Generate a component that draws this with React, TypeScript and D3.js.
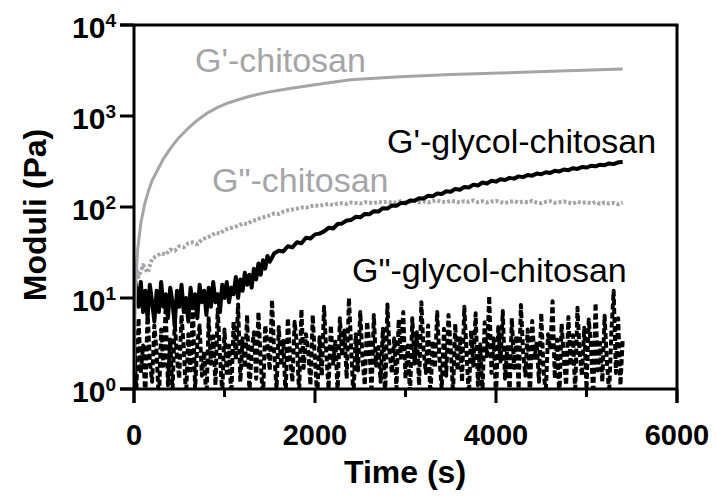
import React from "react";
import * as d3 from "d3";

// ---- data ----
const gpChitosanTime = [0, 5, 10, 20, 40, 77, 120, 155, 200, 265, 330, 409, 500, 597, 700, 818, 930, 1039, 1150, 1260, 1481, 1702, 2000, 2390, 2940, 3500, 4045, 4700, 5400];
const gpChitosan = [1.5, 2.5, 6, 15, 34, 68, 110, 145, 195, 260, 345, 450, 585, 730, 900, 1090, 1250, 1390, 1510, 1630, 1830, 1990, 2200, 2500, 2700, 2850, 2960, 3120, 3280];

const gppChitosanStep = 50; // s between samples
const gppChitosan = [
  26, 17, 23, 19, 27,
  29, 31, 30, 34, 33, 37,
  36, 40, 41, 39, 44, 46,
  48, 52, 51, 56, 58, 60,
  62, 66, 65, 70, 72, 76,
  78, 81, 85, 84, 89, 92,
  94, 96, 99, 98, 102, 104,
  103, 106, 108, 105, 109, 110,
  108, 112, 111, 109, 113, 112,
  110, 114, 112, 115, 111, 113,
  116, 112, 114, 117, 113, 115,
  112, 116, 118, 114, 113, 117,
  115, 112, 116, 114, 118, 113,
  116, 112, 115, 117, 113, 111,
  114, 116, 112, 115, 113, 117,
  112, 110, 114, 116, 111, 113,
  115, 112, 109, 114, 111, 113,
  110, 113, 108, 112, 109, 111, 107, 112,
];

const gpGlycolEarlyStep = 25; // s, from t = 0
const gpGlycolEarly = [
  18, 13, 8, 15, 7, 12, 6, 14, 9, 5.5,
  12, 7, 15, 8, 11, 6, 13, 9, 5, 12,
  8, 14, 7, 10, 5.5, 13, 8, 11, 6, 14,
  9, 12, 6.5, 13, 8, 15, 9, 11, 7, 14,
  10, 15, 9, 13, 11, 17, 10, 16, 12, 19,
  14, 18, 13, 21, 16, 24, 18, 26, 21, 29, 25,
];
const gpGlycolLateStart = 1550;
const gpGlycolLateStep = 50;
const gpGlycolLate = [
  31, 33, 32.5, 37, 36, 41, 40, 46, 45, 50,
  51, 54, 59, 58, 65, 66, 71, 72, 78, 77,
  84, 83, 90, 89, 97, 96, 104, 103, 111, 110,
  118, 117, 125, 124, 133, 131, 141, 139, 149, 147,
  158, 155, 166, 164, 176, 172, 186, 181, 194, 190,
  202, 198, 209, 205, 217, 213, 225, 221, 233, 229,
  241, 237, 250, 246, 258, 254, 267, 262, 275, 271,
  284, 280, 292, 288, 301, 296, 310, 312,
];

const gppGlycolStep = 25;
const gppGlycol = [
  4, 0.9, 6, 1.5, 3, 0.8, 7, 2, 1.2, 5,
  2.5, 0.7, 4.5, 1.8, 8, 1.1, 3.5, 0.9, 5.5, 2.2,
  1.3, 6.5, 2.8, 0.8, 4, 1.6, 9, 1.0, 3.2, 5,
  1.4, 2.6, 0.7, 6, 1.9, 3.8, 1.1, 7.5, 2.3, 0.9,
  4.5, 1.5, 3, 0.8, 5.5, 2.1, 8.5, 1.2, 3.6, 1.7,
  6.5, 0.9, 2.7, 4.2, 1.3, 7, 2, 0.75, 5, 3.1,
  1.6, 9.5, 2.4, 1.0, 4.8, 1.8, 3.4, 0.8, 6, 2.2,
  1.2, 5.5, 3, 0.9, 7.5, 1.7, 4, 2.6, 1.1, 6.5,
  2, 0.8, 3.7, 1.4, 8, 2.5, 1.0, 5, 1.9, 3.3,
  0.9, 6, 2.3, 4.4, 1.3, 10, 2.8, 0.8, 4, 1.6,
  7, 2.1, 1.1, 5.5, 3.2, 0.9, 6.5, 1.8, 2.9, 1.2,
  4.6, 0.8, 8.5, 2.4, 1.5, 3.6, 1.0, 5.8, 2.2, 7,
  1.3, 3, 0.85, 6, 1.9, 4.2, 1.1, 9, 2.6, 1.5,
  5, 0.8, 3.4, 1.7, 7, 2.2, 1.0, 4.6, 1.4, 6.5,
  2.8, 0.9, 5.2, 1.6, 3.8, 1.2, 8, 2.4, 0.8, 4.4,
  1.8, 6.8, 1.1, 3.1, 0.9, 5.4, 2.3, 10.5, 1.5, 3.6,
  0.8, 4.8, 2, 7.2, 1.3, 2.9, 0.9, 6, 1.7, 3.9,
  1.0, 8.4, 2.5, 1.4, 4.5, 0.8, 5.6, 2.1, 3.3, 1.2,
  6.8, 1.6, 0.9, 4, 2.7, 9.2, 1.3, 3.5, 0.8, 5.2,
  2.2, 1.1, 6.2, 1.8, 3.9, 0.9, 7.8, 2.4, 1.4, 4.7,
  1.0, 5.8, 2.9, 0.8, 8.8, 1.6, 3.2, 1.2, 6.4, 2,
  0.9, 4.2, 12, 1.5, 6, 1.1, 3.5,
];

const xMajorTicks = [0, 2000, 4000, 6000];
const xMinorTicks = [1000, 3000, 5000];
const yExponents = [0, 1, 2, 3, 4];

const labels = [
  { text: "G'-chitosan", color: "gray", x: 195, y: 72 },
  { text: "G\"-chitosan", color: "gray", x: 212, y: 192 },
  { text: "G'-glycol-chitosan", color: "black", x: 387, y: 153 },
  { text: "G\"-glycol-chitosan", color: "black", x: 352, y: 282 },
];

const GRAY = "#a5a5a8";
const FONT = "'Liberation Sans', Arial, Helvetica, sans-serif";

export default function App() {
  const left = 134, right = 677, top = 25, bottom = 389;
  const x = d3.scaleLinear().domain([0, 6000]).range([left, right]);
  const y = d3.scaleLog().domain([1, 10000]).range([bottom, top]);

  const line = d3
    .line<[number, number]>()
    .x((d) => x(d[0]))
    .y((d) => y(Math.max(d[1], 0.5)));

  const gpChit: [number, number][] = gpChitosanTime.map((t, i) => [t, gpChitosan[i]]);
  const gppChit: [number, number][] = gppChitosan.map((v, i) => [i * gppChitosanStep, v]);
  const gpGly: [number, number][] = [
    ...gpGlycolEarly.map((v, i) => [i * gpGlycolEarlyStep, v] as [number, number]),
    ...gpGlycolLate.map((v, i) => [gpGlycolLateStart + i * gpGlycolLateStep, v] as [number, number]),
  ];
  const gppGly: [number, number][] = gppGlycol.map((v, i) => [i * gppGlycolStep, v]);

  const axisW = 3;

  return (
    <svg width={717} height={499} style={{ display: "block", position: "absolute", left: 0, top: 0 }}>
      <rect width={717} height={499} fill="white" />
      <defs>
        <clipPath id="plotClip">
          <rect x={left} y={top} width={right - left} height={bottom - top} />
        </clipPath>
      </defs>

      <g clipPath="url(#plotClip)" fill="none" strokeLinejoin="round">
        <path d={line(gppGly) || ""} stroke="black" strokeWidth={4} strokeDasharray="6 3" />
        <path d={line(gppChit) || ""} stroke={GRAY} strokeWidth={4} strokeDasharray="3 2" />
        <path d={line(gpGly) || ""} stroke="black" strokeWidth={4} />
        <path d={line(gpChit) || ""} stroke={GRAY} strokeWidth={3} />
      </g>

      {/* frame and axes */}
      <g stroke="black" strokeWidth={axisW} fill="none">
        <line x1={left} x2={left} y1={top} y2={bottom + 14} />
        <line x1={left - 14} x2={right} y1={bottom} y2={bottom} />
        <line x1={left - 14} x2={right + 1.5} y1={top} y2={top} />
        <line x1={right} x2={right} y1={top} y2={bottom + 14} />
        {yExponents.map((e) => (
          <line key={"yt" + e} x1={left - 14} x2={left} y1={y(Math.pow(10, e))} y2={y(Math.pow(10, e))} />
        ))}
        {xMajorTicks.map((t) => (
          <line key={"xt" + t} x1={x(t)} x2={x(t)} y1={bottom} y2={bottom + 14} />
        ))}
        {xMinorTicks.map((t) => (
          <line key={"xm" + t} x1={x(t)} x2={x(t)} y1={bottom} y2={bottom + 8} />
        ))}
      </g>

      <g fontFamily={FONT} fontWeight="bold" fill="black">
        {xMajorTicks.map((t) => (
          <text key={"xl" + t} x={x(t)} y={445} textAnchor="middle" fontSize={29}>
            {t}
          </text>
        ))}
        {yExponents.map((e) => (
          <text key={"yl" + e} x={116} y={y(Math.pow(10, e)) + 13} textAnchor="end" fontSize={30}>
            10
            <tspan fontSize={19} dy={-11}>{e}</tspan>
          </text>
        ))}
        <text x={405} y={483} textAnchor="middle" fontSize={32}>
          Time (s)
        </text>
        <text transform="translate(46,215) rotate(-90)" textAnchor="middle" fontSize={32}>
          Moduli (Pa)
        </text>
      </g>

      <g fontFamily={FONT} fontSize={34}>
        {labels.map((l) => (
          <text key={l.text} x={l.x} y={l.y} fill={l.color === "gray" ? GRAY : "black"}>
            {l.text}
          </text>
        ))}
      </g>
    </svg>
  );
}
